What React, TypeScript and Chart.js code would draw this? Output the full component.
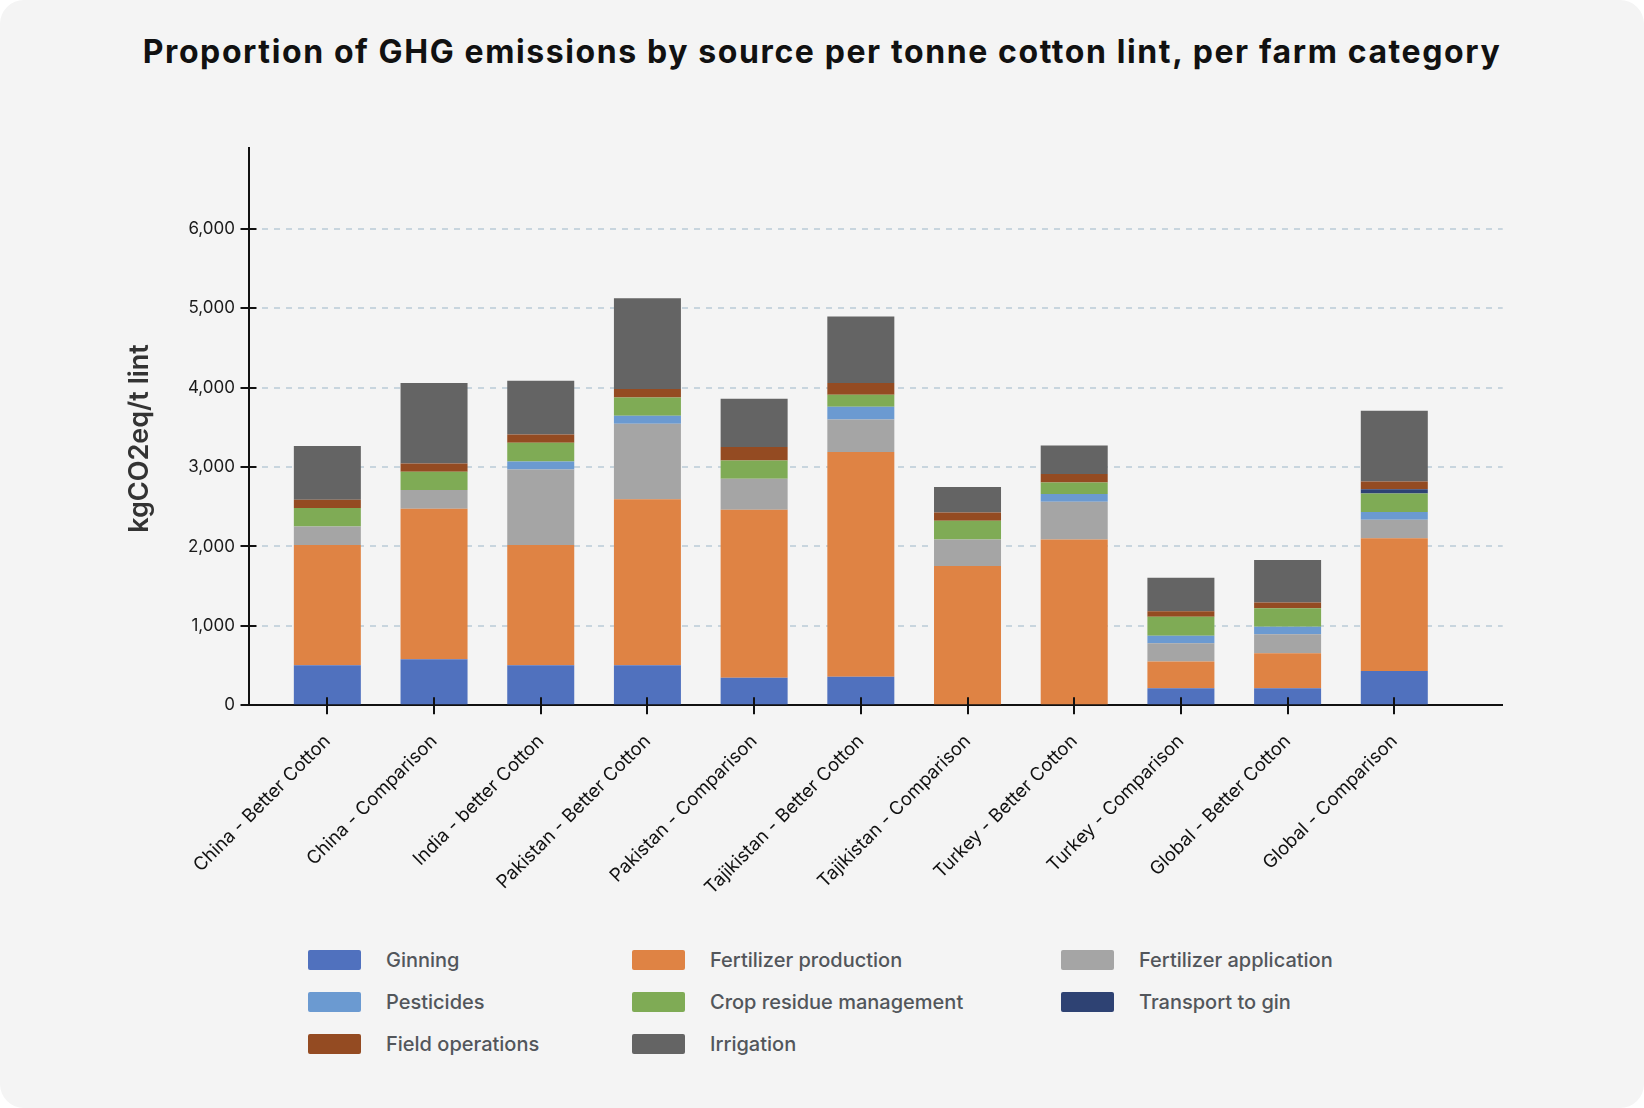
import React, { useEffect, useRef } from "react";
import { Chart, registerables } from "chart.js";

Chart.register(...registerables);

const categories = [
  "China - Better Cotton",
  "China - Comparison",
  "India - better Cotton",
  "Pakistan - Better Cotton",
  "Pakistan - Comparison",
  "Tajikistan - Better Cotton",
  "Tajikistan - Comparison",
  "Turkey - Better Cotton",
  "Turkey - Comparison",
  "Global - Better Cotton",
  "Global - Comparison",
];

const ginning = [503, 579, 503, 503, 348, 361, 0, 0, 214, 214, 432];
const fertilizerProduction = [1515, 1896, 1515, 2090, 2115, 2828, 1754, 2089, 336, 440, 1670];
const fertilizerApplication = [235, 235, 952, 952, 390, 411, 335, 474, 230, 240, 235];
const pesticides = [0, 0, 101, 101, 0, 159, 0, 97, 97, 96, 96];
const cropResidueManagement = [231, 231, 235, 231, 231, 151, 235, 147, 239, 231, 235];
const transportToGin = [0, 0, 0, 0, 0, 0, 0, 0, 0, 0, 51];
const fieldOperations = [105, 105, 105, 105, 168, 147, 105, 105, 67, 75, 100];
const irrigation = [675, 1011, 675, 1145, 608, 839, 319, 360, 424, 533, 890];

const yTicks = [0, 1000, 2000, 3000, 4000, 5000, 6000];

const seriesNames = [
  "Ginning",
  "Fertilizer production",
  "Fertilizer application",
  "Pesticides",
  "Crop residue management",
  "Transport to gin",
  "Field operations",
  "Irrigation",
];
const seriesValues = [
  ginning,
  fertilizerProduction,
  fertilizerApplication,
  pesticides,
  cropResidueManagement,
  transportToGin,
  fieldOperations,
  irrigation,
];
const seriesColors = [
  "#5071be",
  "#df8344",
  "#a5a5a5",
  "#6b9ad1",
  "#7fab55",
  "#2e4273",
  "#944b22",
  "#646464",
];

const FONT = "Inter, 'Noto Sans', sans-serif";
const CANVAS_H = 910;

const tickMarks = {
  id: "tickMarks",
  afterDraw(chart: any) {
    const { ctx } = chart;
    const x = chart.scales.x;
    const y = chart.scales.y;
    ctx.save();
    ctx.strokeStyle = "#111";
    ctx.lineWidth = 2;
    ctx.beginPath();
    x.ticks.forEach((_t: any, i: number) => {
      const px = Math.round(x.getPixelForTick(i));
      ctx.moveTo(px, x.top - 8);
      ctx.lineTo(px, x.top + 9);
    });
    y.ticks.forEach((_t: any, i: number) => {
      const py = Math.round(y.getPixelForTick(i));
      ctx.moveTo(y.right - 8, py);
      ctx.lineTo(y.right + 8, py);
    });
    ctx.stroke();
    ctx.restore();
  },
};

const yTitle = {
  id: "yTitle",
  afterDraw(chart: any) {
    const { ctx } = chart;
    ctx.save();
    ctx.translate(140, 438.5);
    ctx.rotate(-Math.PI / 2);
    ctx.font = `600 27px ${FONT}`;
    ctx.fillStyle = "#333";
    ctx.textAlign = "center";
    ctx.textBaseline = "middle";
    ctx.fillText("kgCO2eq/t lint", 0, 0);
    ctx.restore();
  },
};

export default function App() {
  const ref = useRef<HTMLCanvasElement | null>(null);

  useEffect(() => {
    if (!ref.current) return;
    const chart = new Chart(ref.current, {
      type: "bar",
      data: {
        datasets: seriesNames.map((name, s) => ({
          label: name,
          data: seriesValues[s].map((v, i) => ({ x: i, y: v })),
          backgroundColor: seriesColors[s],
          borderWidth: 0,
          categoryPercentage: 1,
          barPercentage: 0.628,
        })),
      },
      options: {
        responsive: false,
        animation: false,
        devicePixelRatio: 1,
        layout: { padding: { top: 147.8, left: 0, right: 141.3, bottom: 0 } },
        plugins: {
          legend: { display: false },
          title: { display: false },
          tooltip: { enabled: false },
        },
        scales: {
          x: {
            type: "linear",
            stacked: true,
            offset: false,
            min: -0.739,
            max: 11.016,
            afterBuildTicks: (scale: any) => {
              scale.ticks = categories.map((_c, i) => ({ value: i }));
            },
            afterFit: (scale: any) => {
              scale.height = CANVAS_H - 705.3;
            },
            grid: { display: false, drawTicks: false, offset: false },
            border: { display: true, color: "#111", width: 2 },
            ticks: {
              autoSkip: false,
              minRotation: 45,
              maxRotation: 45,
              padding: 25,
              color: "#111",
              font: { family: FONT, size: 18.5 },
              callback: (v: any) => categories[v as number] ?? "",
            },
          },
          y: {
            type: "linear",
            stacked: true,
            min: 0,
            max: 7020,
            afterBuildTicks: (scale: any) => {
              scale.ticks = yTicks.map((v) => ({ value: v }));
            },
            afterFit: (scale: any) => {
              scale.width = 248.5;
            },
            grid: {
              drawTicks: false,
              color: (c: any) => (c.tick && c.tick.value === 0 ? "rgba(0,0,0,0)" : "#c8d5de"),
              lineWidth: 2,
            },
            border: { display: true, color: "#111", width: 2, dash: [6, 6] },
            ticks: {
              padding: 13.5,
              color: "#1a1a1a",
              font: { family: FONT, size: 17 },
              callback: (v: any) => Number(v).toLocaleString("en-US"),
            },
          },
        },
      },
      plugins: [tickMarks, yTitle],
    } as any);
    return () => chart.destroy();
  }, []);

  const legendCols = [308, 632, 1061];
  const legendRows = [960, 1002, 1044];

  return (
    <div
      style={{
        position: "relative",
        width: 1644,
        height: 1108,
        background: "#f4f4f4",
        borderRadius: 24,
        overflow: "hidden",
        fontFamily: FONT,
      }}
    >
      <style>{`body{margin:0;background:#ffffff;}`}</style>
      <div
        style={{
          position: "absolute",
          left: 0,
          top: 33,
          width: 1644,
          textAlign: "center",
          fontSize: 32,
          lineHeight: "38px",
          fontWeight: 700,
          letterSpacing: "1.6px",
          color: "#111",
        }}
      >
        Proportion of GHG emissions by source per tonne cotton lint, per farm category
      </div>
      <canvas
        ref={ref}
        width={1644}
        height={CANVAS_H}
        style={{ position: "absolute", left: 0, top: 0, width: 1644, height: CANVAS_H }}
      />
      {seriesNames.map((name, s) => {
        const col = s % 3;
        const row = Math.floor(s / 3);
        const left = legendCols[col];
        const cy = legendRows[row];
        return (
          <div key={name}>
            <div
              style={{
                position: "absolute",
                left,
                top: cy - 10,
                width: 53,
                height: 20,
                borderRadius: 2,
                background: seriesColors[s],
              }}
            />
            <div
              style={{
                position: "absolute",
                left: left + 78,
                top: cy - 15,
                height: 30,
                lineHeight: "30px",
                fontSize: 20,
                fontWeight: 500,
                color: "#52565b",
                whiteSpace: "nowrap",
              }}
            >
              {name}
            </div>
          </div>
        );
      })}
    </div>
  );
}
